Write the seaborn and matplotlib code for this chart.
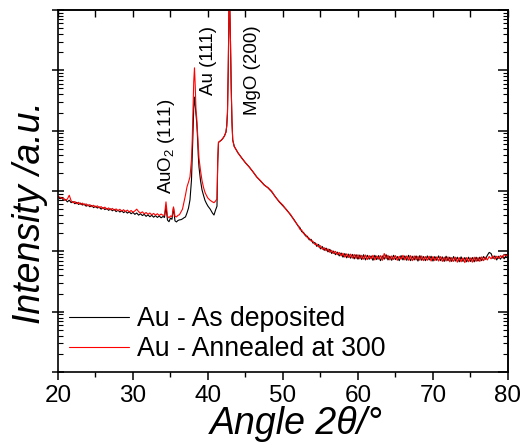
import numpy as np
import pandas as pd
import matplotlib
matplotlib.use("Agg")
from matplotlib import pyplot as plt
from matplotlib.ticker import MultipleLocator, LogLocator, NullFormatter
import seaborn as sns

# scan 1: 20 - 34 deg, 0.25 step
angle_a = [20.0, 20.25, 20.5, 20.75, 21.0, 21.25, 21.5, 21.75, 22.0, 22.25, 22.5, 22.75,
           23.0, 23.25, 23.5, 23.75, 24.0, 24.25, 24.5, 24.75, 25.0, 25.25, 25.5, 25.75,
           26.0, 26.25, 26.5, 26.75, 27.0, 27.25, 27.5, 27.75, 28.0, 28.25, 28.5, 28.75,
           29.0, 29.25, 29.5, 29.75, 30.0, 30.25, 30.5, 30.75, 31.0, 31.25, 31.5, 31.75,
           32.0, 32.25, 32.5, 32.75, 33.0, 33.25, 33.5, 33.75, 34.0]
dep_a = [800, 745, 770, 700, 720, 660, 705, 640, 668, 615, 648, 598,
         630, 585, 610, 560, 590, 548, 575, 530, 560, 522, 545, 500,
         530, 492, 515, 478, 505, 470, 495, 455, 482, 448, 470, 438,
         462, 430, 452, 420, 442, 410, 432, 398, 420, 392, 410, 380,
         402, 375, 396, 368, 390, 365, 385, 360, 378]
ann_a = [810, 790, 755, 760, 700, 735, 850, 690, 640, 670, 615, 650,
         600, 630, 585, 612, 565, 595, 550, 580, 540, 568, 525, 552,
         510, 540, 498, 525, 488, 515, 480, 505, 470, 498, 462, 490,
         455, 482, 450, 475, 445, 468, 500, 455, 430, 452, 418, 440,
         410, 432, 402, 425, 398, 420, 392, 415, 395]

# peak region: AuO2 (111), Au (111), MgO (200)
angle_b = [34.2, 34.4, 34.6, 34.8, 35.0, 35.2, 35.4, 35.6, 35.8, 36.0, 36.2, 36.4,
           36.6, 36.8, 37.0, 37.2, 37.4, 37.6, 37.8, 37.9, 38.0, 38.1, 38.2, 38.3,
           38.4, 38.5, 38.6, 38.7, 38.8, 39.0, 39.2, 39.4, 39.6, 39.8, 40.0, 40.3,
           40.6, 40.8, 41.0, 41.2, 41.3, 41.4, 41.6, 41.8, 42.0, 42.2, 42.4, 42.5,
           42.6, 42.7, 42.8, 42.85, 42.9, 43.0, 43.1, 43.2, 43.3]
dep_b = [365, 545, 330, 310, 355, 340, 525, 320, 307, 325, 332, 335,
         345, 360, 372, 433, 520, 712, 1528, 3500, 9000, 24000, 36000, 26000,
         18000, 13500, 8000, 4000, 2500, 1500, 1050, 850, 700, 620, 560, 500,
         430, 400, 480, 560, 3000, 6400, 6700, 7000, 7500, 8200, 9500, 12000,
         20000, 100000, 1000000, 1500000, 1200000, 300000, 50000, 14000, 7000]
ann_b = [400, 660, 380, 360, 386, 375, 545, 380, 372, 395, 405, 450,
         500, 650, 860, 1170, 1400, 1714, 3300, 7000, 20000, 65000, 110000, 55000,
         22000, 16000, 9500, 5500, 3500, 2200, 1500, 1150, 950, 840, 760, 700,
         660, 640, 680, 740, 3200, 6400, 6700, 7000, 7500, 8200, 9500, 12000,
         20000, 100000, 1000000, 1500000, 1200000, 300000, 50000, 14000, 7000]

# MgO tail 43.5 - 52
angle_c = [43.5, 44.0, 44.5, 45.0, 45.5, 46.0, 46.5, 47.0, 47.5, 48.0, 48.5, 49.0,
           49.5, 50.0, 50.5, 51.0, 51.5, 52.0]
dep_c = [5500, 4280, 3540, 2924, 2510, 2074, 1714, 1469, 1262, 1125, 967, 798,
         659, 566, 486, 402, 332, 264]
ann_c = [5450, 4300, 3500, 2950, 2480, 2090, 1700, 1480, 1250, 1140, 990, 790,
         670, 580, 478, 410, 325, 270]

# background 52.25 - 80, 0.25 step
angle_d = [52.25, 52.5, 52.75,
           53.0, 53.25, 53.5, 53.75, 54.0, 54.25, 54.5, 54.75, 55.0, 55.25, 55.5, 55.75,
           56.0, 56.25, 56.5, 56.75, 57.0, 57.25, 57.5, 57.75, 58.0, 58.25, 58.5, 58.75,
           59.0, 59.25, 59.5, 59.75, 60.0, 60.25, 60.5, 60.75, 61.0, 61.25, 61.5, 61.75,
           62.0, 62.25, 62.5, 62.75, 63.0, 63.25, 63.5, 63.75, 64.0, 64.25, 64.5, 64.75,
           65.0, 65.25, 65.5, 65.75, 66.0, 66.25, 66.5, 66.75, 67.0, 67.25, 67.5, 67.75,
           68.0, 68.25, 68.5, 68.75, 69.0, 69.25, 69.5, 69.75, 70.0, 70.25, 70.5, 70.75,
           71.0, 71.25, 71.5, 71.75, 72.0, 72.25, 72.5, 72.75, 73.0, 73.25, 73.5, 73.75,
           74.0, 74.25, 74.5, 74.75, 75.0, 75.25, 75.5, 75.75, 76.0, 76.25, 76.5, 76.75,
           77.0, 77.25, 77.5, 77.75, 78.0, 78.25, 78.5, 78.75, 79.0, 79.25, 79.5, 79.75,
           80.0]
dep_d = [248, 212, 205,
         180, 178, 155, 158, 137, 140, 121, 130, 110, 120, 104, 113,
         98, 108, 92, 101, 88, 97, 84, 94, 80, 92, 78, 90,
         77, 89, 75, 88, 74, 87, 73, 88, 72, 86, 74, 84,
         71, 86, 73, 85, 70, 84, 74, 88, 72, 83, 71, 86,
         73, 82, 70, 85, 72, 84, 71, 86, 70, 83, 72, 84,
         69, 85, 71, 82, 70, 84, 72, 83, 69, 82, 71, 84,
         70, 81, 68, 83, 70, 80, 68, 82, 69, 80, 67, 81,
         68, 79, 67, 80, 68, 79, 67, 80, 69, 80, 70, 82,
         74, 86, 96, 92, 76, 84, 72, 83, 74, 84, 75, 86,
         80]
ann_d = [232, 225, 196,
         190, 168, 165, 148, 147, 130, 133, 118, 124, 108, 115, 102,
         110, 96, 104, 92, 100, 88, 96, 84, 93, 80, 91, 79,
         90, 77, 89, 76, 88, 75, 86, 74, 87, 73, 85, 75,
         86, 72, 84, 74, 85, 71, 92, 75, 86, 72, 84, 73,
         85, 71, 83, 74, 86, 72, 84, 71, 85, 70, 84, 72,
         83, 71, 84, 70, 82, 71, 83, 69, 82, 70, 81, 69,
         82, 68, 80, 69, 81, 67, 79, 68, 80, 66, 79, 67,
         78, 65, 79, 67, 78, 66, 80, 68, 79, 68, 81, 70,
         80, 72, 82, 75, 84, 74, 83, 76, 85, 78, 88, 84,
         90]

labels = ["Au - As deposited", "Au - Annealed at 300"]
colors = ["black", "red"]

angle = angle_a + angle_b + angle_c + angle_d
df = pd.concat([
    pd.DataFrame({"angle": angle, "intensity": dep_a + dep_b + dep_c + dep_d, "sample": labels[0]}),
    pd.DataFrame({"angle": angle, "intensity": ann_a + ann_b + ann_c + ann_d, "sample": labels[1]}),
])

sns.set_theme(style="ticks")
plt.rcParams["font.family"] = ["Liberation Sans", "DejaVu Sans"]
plt.rcParams["mathtext.fontset"] = "custom"
plt.rcParams["mathtext.rm"] = "Liberation Sans"
plt.rcParams["mathtext.it"] = "Liberation Sans:italic"
plt.rcParams["text.color"] = "black"
plt.rcParams["axes.labelcolor"] = "black"
plt.rcParams["xtick.color"] = "black"
plt.rcParams["ytick.color"] = "black"

fig = plt.figure(figsize=(5.22, 4.46), dpi=100)
ax = fig.add_axes([0.1111, 0.1659, 0.862, 0.8117])

sns.lineplot(data=df, x="angle", y="intensity", hue="sample", hue_order=labels,
             palette=dict(zip(labels, colors)), estimator=None, sort=False,
             linewidth=0.8, ax=ax)

ax.set_yscale("log")
ax.set_xlim(20, 80)
ax.set_ylim(1, 1e6)

ax.xaxis.set_major_locator(MultipleLocator(10))
ax.xaxis.set_minor_locator(MultipleLocator(5))
ax.yaxis.set_major_locator(LogLocator(base=10, numticks=10))
ax.yaxis.set_minor_locator(LogLocator(base=10, subs=np.arange(2, 10), numticks=20))
ax.yaxis.set_major_formatter(NullFormatter())
ax.yaxis.set_minor_formatter(NullFormatter())

for s in ax.spines.values():
    s.set_linewidth(1.2)
    s.set_color("black")

ax.tick_params(axis="x", which="major", direction="out", length=6, width=1.1,
               labelsize=17.5, pad=3, colors="black")
ax.tick_params(axis="x", which="minor", direction="out", length=3.5, width=1.0)
ax.tick_params(axis="y", which="major", direction="inout", length=8, width=1.1)
ax.tick_params(axis="y", which="minor", direction="in", length=3.5, width=0.8)

top = ax.secondary_xaxis("top")
top.xaxis.set_major_locator(MultipleLocator(5))
top.tick_params(direction="in", length=5, width=1.0, labeltop=False)

right = ax.secondary_yaxis("right")
right.yaxis.set_major_locator(LogLocator(base=10, numticks=10))
right.yaxis.set_minor_locator(LogLocator(base=10, subs=np.arange(2, 10), numticks=20))
right.yaxis.set_major_formatter(NullFormatter())
right.yaxis.set_minor_formatter(NullFormatter())
right.tick_params(which="major", direction="in", length=7, width=1.1)
right.tick_params(which="minor", direction="in", length=3.5, width=0.8)

ax.set_xlabel("Angle 2θ/°", fontsize=27, fontstyle="italic", color="black")
ax.set_ylabel("Intensity /a.u.", fontsize=27, fontstyle="italic", color="black")
ax.xaxis.set_label_coords(0.529, -0.095)
ax.yaxis.set_label_coords(-0.022, 0.44)

ax.text(34.5, 880, "AuO$_2$ (111)", rotation=90, ha="center", va="bottom", fontsize=13.5)
ax.text(40.1, 39000, "Au (111)", rotation=90, ha="center", va="bottom", fontsize=13.5)
ax.text(45.9, 18300, "MgO (200)", rotation=90, ha="center", va="bottom", fontsize=13.5)

ax.legend(loc="lower left", bbox_to_anchor=(-0.016, -0.024), frameon=False, fontsize=19.2,
          handlelength=2.25, handletextpad=0.3, labelspacing=0.15, borderaxespad=0.3)

fig.savefig("out.png", dpi=100)
